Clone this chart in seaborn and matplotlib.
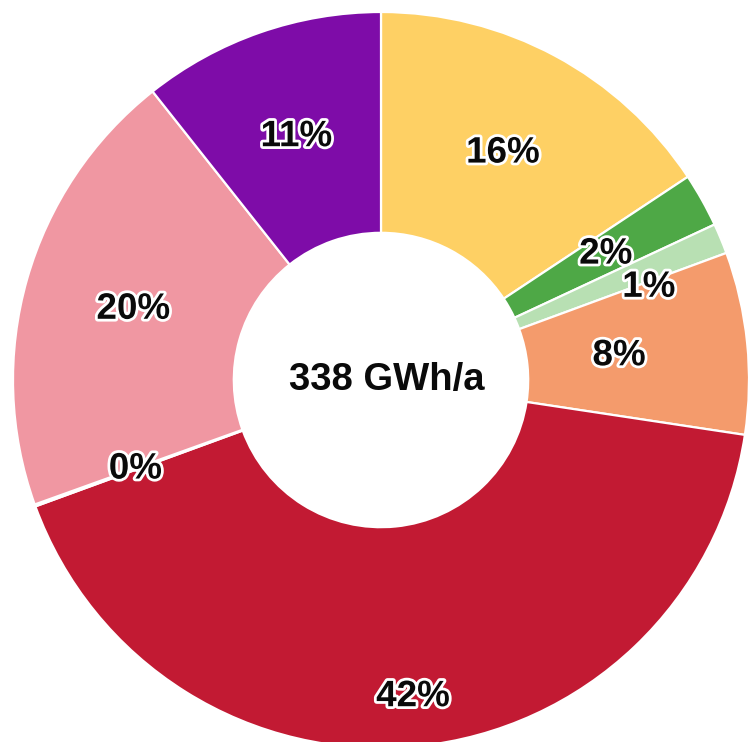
import numpy as np
import matplotlib
matplotlib.use("Agg")
import matplotlib.pyplot as plt
import matplotlib.patheffects as pe
import seaborn as sns

# energy split, GWh/a (clockwise from 12 o'clock)
categories = ["A", "B", "C", "D", "E", "F", "G", "H"]
values = [53, 8, 4.5, 27, 142, 0.3, 67, 36]
total_label = "338 GWh/a"
colors = ["#FED064", "#4EA846", "#B8E0B3", "#F49B6C",
          "#C21A33", "#FFFFFF", "#F097A2", "#7E0CA8"]

# label distance from centre (fraction of radius)
label_r = [0.70, 0.70, 0.77, 0.65, 0.865, 0.71, 0.70, 0.70]
label_shift = [0, 0, -3.5, 0, 0, 0, 0, 0]  # degrees

sns.set_theme(style="white")
plt.rcParams["font.family"] = ["Liberation Sans", "DejaVu Sans"]

fig = plt.figure(figsize=(7.49, 7.42), dpi=100)
ax = fig.add_axes([0, 0, 1, 1])

wedges, _ = ax.pie(values, colors=colors, startangle=90, counterclock=False,
                   radius=1.0, wedgeprops=dict(width=0.6, edgecolor="white", linewidth=1.6))

vals = np.array(values, dtype=float)
pct = vals / vals.sum() * 100
ends = np.cumsum(vals) / vals.sum() * 360
mids = ends - vals / vals.sum() * 360 / 2
stroke = [pe.withStroke(linewidth=4, foreground="white")]
for p, m, r, s in zip(pct, mids, label_r, label_shift):
    a = np.deg2rad(90 - m + s)
    ax.text(r * np.cos(a), r * np.sin(a), f"{p:.0f}%", ha="center", va="center",
            fontsize=26.5, fontweight="bold", color="#0A0A0A", path_effects=stroke)

ax.text(6 / 368, 0, total_label, ha="center", va="center", fontsize=27.5,
        fontweight="bold", color="#0A0A0A")

R = 368.0
ax.set_xlim(-381 / R, (749 - 381) / R)
ax.set_ylim(-(742 - 380) / R, 380 / R)
ax.set_aspect("equal")
ax.axis("off")

fig.savefig("out.png", dpi=100)
